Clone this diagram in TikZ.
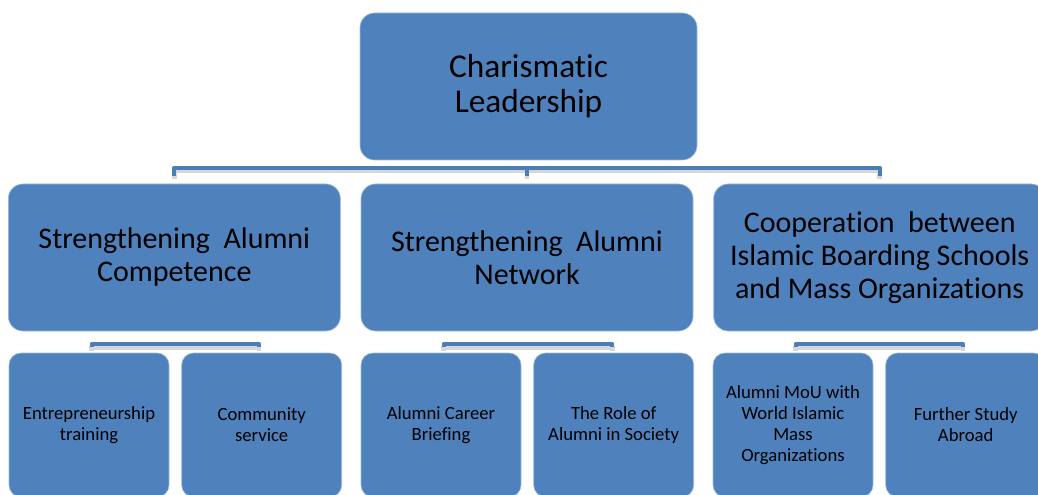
\documentclass[tikz,border=0pt]{standalone}
\usepackage{fontspec}
\setmainfont{Carlito}[Ligatures=NoCommon]
\usetikzlibrary{positioning}
\definecolor{boxblue}{HTML}{4F81BD}
\definecolor{linkblue}{HTML}{4A7EBB}

\begin{document}
\begin{tikzpicture}[
		x=0.75pt, y=-0.75pt,
		line join=round,
		box/.style={fill=boxblue, draw=boxblue!55!white, line width=0.5pt, 
			align=center, inner sep=0pt, text=black},
		head/.style={box, rounded corners=11pt, minimum width=252.75pt, 
			minimum height=110.25pt, font=\fontsize{25}{26.25}\selectfont},
		mid/.style={box, rounded corners=11pt, minimum width=249pt, 
			minimum height=110.25pt, font=\fontsize{22.5}{24.75}\selectfont},
		leaf/.style={box, rounded corners=9pt, minimum width=120pt, 
			minimum height=108pt, font=\fontsize{14}{15.75}\selectfont},
		link/.style={draw=linkblue, line width=3pt, 
			preaction={draw=black!16, line width=3.5pt, 
				transform canvas={yshift=-2.5pt}}}
		]
		
		\useasboundingbox (0,0) rectangle (1038,495);
		
		% top
		\node[head] (lead) at (528.5,86.5) {Charismatic\\Leadership};
		
		% second row
		\node[mid] (net) at (527,257.5) {Strengthening\ \ Alumni\\Network};
		\node[mid, left=15pt of net] (comp) {Strengthening\ \ Alumni\\Competence};
		\node[mid, right=15pt of net] (coop) 
		{Cooperation\ \ between\\Islamic Boarding Schools\\and Mass Organizations};
		
		% third row
		\node[leaf] (train) at (89,425) {Entrepreneurship\\training};
		\node[leaf, right=9pt of train] (serv) {Community\\service};
		\node[leaf] (brief) at (441,425) {Alumni Career\\Briefing};
		\node[leaf, right=9pt of brief] (role) {The Role of\\Alumni in Society};
		\node[leaf] (mou) at (793,425) 
		{Alumni MoU with\\World Islamic\\Mass\\Organizations};
		\node[leaf, right=9pt of mou] (study) {Further Study\\Abroad};
		
		% brackets
		\draw[link] ([yshift=6pt]comp.north) -- ([yshift=12pt]comp.north) -- 
		([yshift=12pt]coop.north) -- ([yshift=6pt]coop.north);
		\draw[link] ([yshift=6pt]net.north) -- ([yshift=12pt]net.north);
		
		\draw[link] ([shift={(2pt,4pt)}]train.north) -- ([shift={(2pt,6.5pt)}]train.north) -- 
		([shift={(-2pt,6.5pt)}]serv.north) -- ([shift={(-2pt,4pt)}]serv.north);
		\draw[link] ([shift={(2pt,4pt)}]brief.north) -- ([shift={(2pt,6.5pt)}]brief.north) -- 
		([shift={(-1pt,6.5pt)}]role.north) -- ([shift={(-1pt,4pt)}]role.north);
		\draw[link] ([shift={(2pt,4pt)}]mou.north) -- ([shift={(2pt,6.5pt)}]mou.north) -- 
		([shift={(-2pt,6.5pt)}]study.north) -- ([shift={(-2pt,4pt)}]study.north);
		
	\end{tikzpicture}
\end{document}
